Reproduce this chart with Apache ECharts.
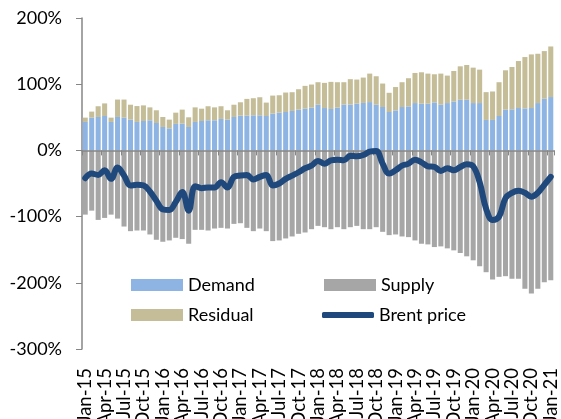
<!DOCTYPE html>
<html><head><meta charset="utf-8">
<script src="https://cdn.jsdelivr.net/npm/echarts@6/dist/echarts.min.js"></script>
<style>html,body{margin:0;padding:0;background:#fff}#c{width:561px;height:419px}</style>
</head><body><div id="c"></div>
<script>
const categories = [
'Jan-15','Feb-15','Mar-15','Apr-15','May-15','Jun-15','Jul-15','Aug-15','Sep-15','Oct-15','Nov-15','Dec-15',
'Jan-16','Feb-16','Mar-16','Apr-16','May-16','Jun-16','Jul-16','Aug-16','Sep-16','Oct-16','Nov-16','Dec-16',
'Jan-17','Feb-17','Mar-17','Apr-17','May-17','Jun-17','Jul-17','Aug-17','Sep-17','Oct-17','Nov-17','Dec-17',
'Jan-18','Feb-18','Mar-18','Apr-18','May-18','Jun-18','Jul-18','Aug-18','Sep-18','Oct-18','Nov-18','Dec-18',
'Jan-19','Feb-19','Mar-19','Apr-19','May-19','Jun-19','Jul-19','Aug-19','Sep-19','Oct-19','Nov-19','Dec-19',
'Jan-20','Feb-20','Mar-20','Apr-20','May-20','Jun-20','Jul-20','Aug-20','Sep-20','Oct-20','Nov-20','Dec-20',
'Jan-21'];
const demand = [
43,49.5,50.5,52,43,50.5,49.5,46.5,43,44.4,45.5,41.4,
35.4,33.3,40,40.4,35.4,43,44.4,45.5,45.5,47.5,46.5,50.5,
52.5,52.5,53,53,52,55.6,57,58,59.6,61.6,63,64.6,
69,64,62.6,64.6,69.2,69.2,70.7,71.7,73,69,65.6,58,
60.4,65.5,66.5,71.5,70.5,70.5,72.5,69,71.5,74,76.5,76.5,
71.5,71.5,46,46,52,61.5,62,64,63.5,64,71.5,78,
80.6];
const residual = [
6.5,9.1,16.2,19,6.5,26.3,27.3,22.5,24,23.6,19.5,19.2,
15.1,13.2,17,21.2,14.6,22,18.6,21.2,19.5,19.2,14.1,18.5,
20.2,25.3,25.8,27.3,20.2,27.2,26.3,29.4,28.3,30.8,34.5,34.9,
34,38,40.9,38.4,33.8,38.4,36.3,38.3,43,43,35.4,29,
35.3,37.5,42.5,45.5,47.5,45.5,42.5,47,41.5,46,50.5,52.5,
53.5,50.5,42,43,51,59.5,64,71,77.5,81,74.5,72,
76.4];
const supply = [
-97,-91,-105,-102,-97,-103,-115,-122,-121,-121,-127,-135,
-138,-136,-132,-134,-141,-120,-120,-121,-118,-117,-118,-111,
-110,-117,-122,-118,-122,-137,-136,-133,-130,-126,-124,-119,
-114,-116,-119,-116,-119,-116,-114,-119,-119,-116,-123,-128,
-127,-130,-131,-136,-141,-142,-146,-145,-148,-151,-155,-160,
-166,-175,-184,-195,-191,-190,-194,-194,-209,-216,-209,-199,
-196];
const brent = [
-42,-35,-37,-30,-43,-26,-38,-53,-52,-53,-62,-76,
-89,-90,-78,-63,-91,-54,-57,-56,-56,-48,-56,-40,
-38,-37,-44,-40,-37,-53,-50,-43,-38,-33,-27,-23,
-16,-20,-15,-14,-15,-8,-9,-7,-2,-1,-20,-35,
-30,-23,-20,-14,-18,-24,-25,-31,-27,-30,-25,-21,
-24,-48,-88,-105,-100,-72,-64,-61,-64,-70,-64,-52,
-40];
const yTicks = {min:-300, max:200, step:100};

const FONT = 'Lato';
const chart = echarts.init(document.getElementById('c'));
const legendText = {fontFamily: FONT, fontSize: 18, color: '#000'};
function leg(name, left, top, icon, h) {
  return {data:[{name: name, icon: icon}], left: left, top: top, itemWidth: 52, itemHeight: h,
          itemGap: 0, padding: 0, textStyle: legendText, selectedMode: false};
}
chart.setOption({
  animation: false,
  grid: {left: 82, right: 7, top: 18, bottom: 70, outerBoundsMode: 'none', containLabel: false},
  legend: [
    leg('Demand', 131, 276, 'rect', 12),
    leg('Supply', 324, 276, 'rect', 12),
    leg('Residual', 131, 306, 'rect', 12),
    leg('Brent price', 322, 306, 'roundRect', 6)
  ],
  xAxis: [{
    type: 'category', data: categories, position: 'bottom',
    axisLine: {onZero: true, lineStyle: {color: '#868686', width: 1.5}},
    axisTick: {show: true, interval: 2, length: 5, lineStyle: {color: '#868686'}},
    axisLabel: {show: false}, splitLine: {show: false}, z: 5
  }, {
    type: 'category', data: categories, position: 'bottom',
    axisLine: {show: false, onZero: false}, axisTick: {show: false},
    axisLabel: {interval: 2, rotate: 90, fontFamily: FONT, fontSize: 18.5, color: '#000', margin: 19},
    splitLine: {show: false}
  }],
  yAxis: {
    type: 'value', min: yTicks.min, max: yTicks.max, interval: yTicks.step,
    axisLine: {show: true, lineStyle: {color: '#868686', width: 1.5}},
    axisTick: {show: true, length: 6, lineStyle: {color: '#868686'}},
    axisLabel: {formatter: '{value}%', fontFamily: FONT, fontSize: 18, color: '#000', margin: 20},
    splitLine: {show: false}
  },
  series: [
    {name: 'Demand', type: 'bar', stack: 'all', data: demand, itemStyle: {color: '#8DB4E2'}, barCategoryGap: '22%'},
    {name: 'Residual', type: 'bar', stack: 'all', data: residual, itemStyle: {color: '#C4BD97'}},
    {name: 'Supply', type: 'bar', stack: 'all', data: supply, itemStyle: {color: '#A6A6A6'}},
    {name: 'Brent price', type: 'line', data: brent, smooth: 0.4, symbol: 'none', z: 10,
     lineStyle: {color: '#1F497D', width: 6, cap: 'round', join: 'round'}, itemStyle: {color: '#1F497D'}}
  ]
});
</script></body></html>
